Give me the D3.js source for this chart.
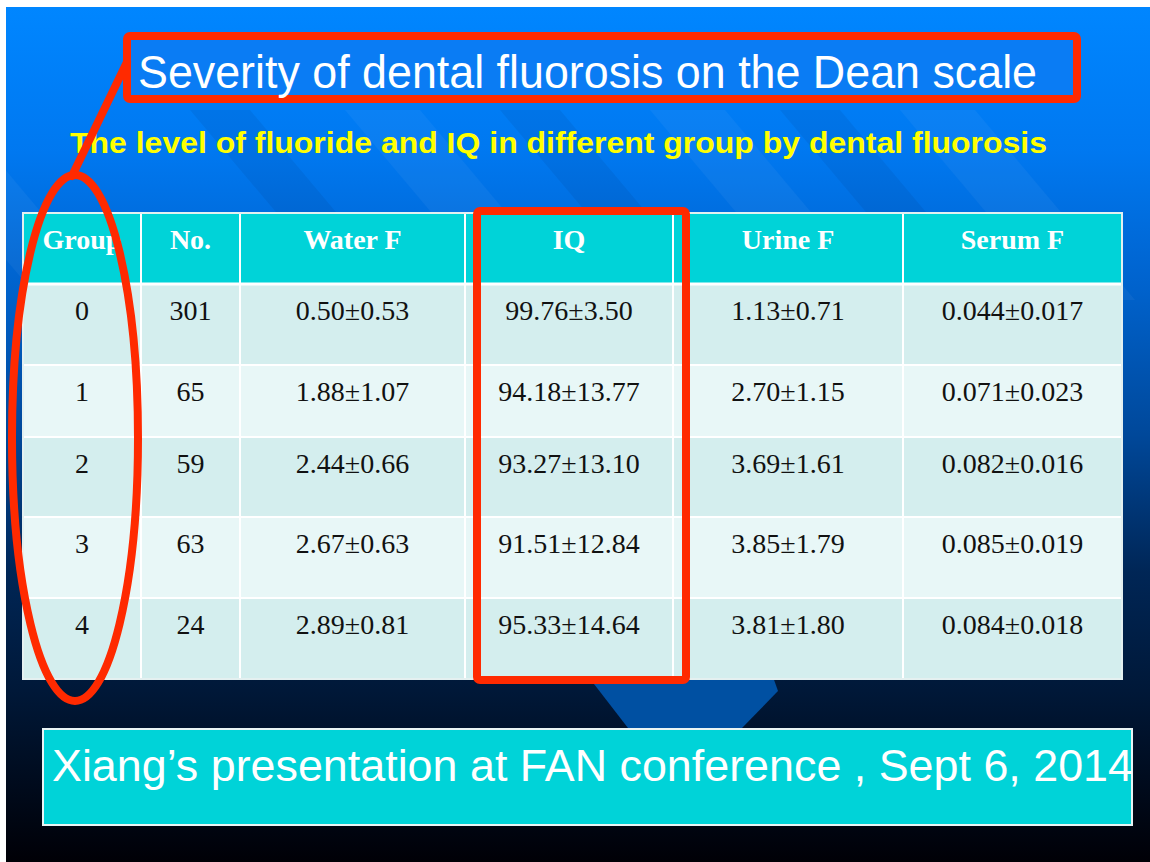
<!DOCTYPE html>
<html>
<head>
<meta charset="utf-8">
<script src="https://cdn.jsdelivr.net/npm/d3@7"></script>
<style>
  body { margin: 0; background: #fff; }
  svg { display: block; }
</style>
</head>
<body>
<svg width="1150" height="862"></svg>
<script>
// table data
var columns = ["Group", "No.", "Water F", "IQ", "Urine F", "Serum F"];
var groups = ["0", "1", "2", "3", "4"];
var counts = [301, 65, 59, 63, 24];
var waterF = ["0.50±0.53", "1.88±1.07", "2.44±0.66", "2.67±0.63", "2.89±0.81"];
var iq     = ["99.76±3.50", "94.18±13.77", "93.27±13.10", "91.51±12.84", "95.33±14.64"];
var urineF = ["1.13±0.71", "2.70±1.15", "3.69±1.61", "3.85±1.79", "3.81±1.80"];
var serumF = ["0.044±0.017", "0.071±0.023", "0.082±0.016", "0.085±0.019", "0.084±0.018"];

var title = "Severity of dental fluorosis on the Dean scale";
var subtitle = "The level of fluoride and IQ in different group by dental fluorosis";
var footer = "Xiang\u2019s presentation at FAN conference , Sept 6, 2014";

var rows = groups.map(function(g, i) {
  return [g, counts[i], waterF[i], iq[i], urineF[i], serumF[i]];
});

var svg = d3.select("svg");
var W = 1150, H = 862;

// layout of the table (column and row edges)
var colEdges = [23, 141, 240, 465, 673, 903, 1122];
var rowEdges = [213, 284, 365, 437, 517, 598, 679];

var x = d3.scaleOrdinal().domain(d3.range(7)).range(colEdges);
var y = d3.scaleOrdinal().domain(d3.range(7)).range(rowEdges);

var defs = svg.append("defs");
var grad = defs.append("linearGradient")
    .attr("id", "bg").attr("x1", 0).attr("y1", 0).attr("x2", 0).attr("y2", 1);
[[0, "#0086ff"], [0.17, "#0078f0"], [0.33, "#0062cc"], [0.5, "#00489a"],
 [0.66, "#002656"], [0.8, "#001838"], [1, "#000006"]].forEach(function(s) {
  grad.append("stop").attr("offset", s[0]).attr("stop-color", s[1]);
});

defs.append("clipPath").attr("id", "slide")
  .append("rect").attr("x", 6).attr("y", 7).attr("width", W - 6).attr("height", H - 7);

// slide background
svg.append("rect")
    .attr("x", 6).attr("y", 7).attr("width", W - 6).attr("height", H - 7)
    .attr("fill", "url(#bg)");

// diagonal light bands
var bands = [-120, 190, 345, 500, 650, 780, 900];
svg.append("g").attr("clip-path", "url(#slide)")
  .selectAll("path").data(bands).enter().append("path")
    .attr("d", function(d, i) {
      var w = i % 2 ? 60 : 75;
      return "M" + d + ",110 L" + (d + w) + ",110 L" + (d + w + 160) + ",300 L" + (d + 160) + ",300 Z";
    })
    .attr("fill", function(d, i) { return i % 2 ? "rgba(0,0,40,0.06)" : "rgba(255,255,255,0.045)"; });

// chevron peeking out below the table
svg.append("path")
    .attr("d", "M560,640 L760,640 L778,691 L742,728 L628,728 Z")
    .attr("fill", "#0050a2");

// title
svg.append("rect")
    .attr("x", 127).attr("y", 36).attr("width", 950).attr("height", 63)
    .attr("rx", 3)
    .attr("fill", "#0a7cf4")
    .attr("stroke", "#ff2a00").attr("stroke-width", 8);

svg.append("text")
    .attr("x", 138).attr("y", 88)
    .attr("textLength", 899).attr("lengthAdjust", "spacingAndGlyphs")
    .style("font-family", "'Liberation Sans', Arial, sans-serif")
    .style("font-size", "46px")
    .attr("fill", "#fff")
    .text(title);

svg.append("text")
    .attr("x", 70).attr("y", 153)
    .attr("textLength", 977).attr("lengthAdjust", "spacingAndGlyphs")
    .style("font-family", "'Liberation Sans', Arial, sans-serif")
    .style("font-size", "30px").style("font-weight", "bold")
    .attr("fill", "#ffff00")
    .text(subtitle);

// table
var table = svg.append("g");

table.selectAll(".rowbg")
  .data(d3.range(6)).enter().append("rect")
    .attr("class", "rowbg")
    .attr("x", x(0)).attr("y", function(i) { return y(i); })
    .attr("width", x(6) - x(0))
    .attr("height", function(i) { return y(i + 1) - y(i); })
    .attr("fill", function(i) { return i === 0 ? "#00d3d8" : (i % 2 ? "#d4eeee" : "#e8f7f7"); });

// grid lines
table.selectAll(".vline")
  .data(d3.range(1, 6)).enter().append("line")
    .attr("x1", function(i) { return x(i); }).attr("x2", function(i) { return x(i); })
    .attr("y1", y(0)).attr("y2", y(6))
    .attr("stroke", "#fff").attr("stroke-width", 2);

table.selectAll(".hline")
  .data(d3.range(1, 6)).enter().append("line")
    .attr("x1", x(0)).attr("x2", x(6))
    .attr("y1", function(i) { return y(i); }).attr("y2", function(i) { return y(i); })
    .attr("stroke", "#fff").attr("stroke-width", function(i) { return i === 1 ? 3 : 2; });

table.append("rect")
    .attr("x", x(0)).attr("y", y(0))
    .attr("width", x(6) - x(0)).attr("height", y(6) - y(0))
    .attr("fill", "none").attr("stroke", "#e4f0f0").attr("stroke-width", 2);

table.selectAll(".head")
  .data(columns).enter().append("text")
    .attr("class", "head")
    .attr("x", function(d, i) { return (x(i) + x(i + 1)) / 2; })
    .attr("y", y(0) + 36)
    .attr("text-anchor", "middle")
    .style("font-family", "'Liberation Serif', 'Times New Roman', serif")
    .style("font-size", "28px").style("font-weight", "bold")
    .attr("fill", "#fff")
    .text(function(d) { return d; });

var row = table.selectAll(".row")
  .data(rows).enter().append("g")
    .attr("class", "row");

row.selectAll("text")
  .data(function(d, r) { return d.map(function(v, c) { return {v: v, r: r, c: c}; }); })
  .enter().append("text")
    .attr("x", function(d) { return (x(d.c) + x(d.c + 1)) / 2; })
    .attr("y", function(d) { return y(d.r + 1) + 36; })
    .attr("text-anchor", "middle")
    .style("font-family", "'Liberation Serif', 'Times New Roman', serif")
    .style("font-size", "28px")
    .attr("fill", "#111")
    .text(function(d) { return d.v; });

// red highlight marks
svg.append("line")
    .attr("x1", 127).attr("y1", 62).attr("x2", 72).attr("y2", 176)
    .attr("stroke", "#ff2a00").attr("stroke-width", 8).attr("stroke-linecap", "round");

svg.append("ellipse")
    .attr("cx", 75).attr("cy", 438).attr("rx", 63).attr("ry", 263)
    .attr("fill", "none")
    .attr("stroke", "#ff2a00").attr("stroke-width", 8);

svg.append("rect")
    .attr("x", 477).attr("y", 211).attr("width", 209).attr("height", 469)
    .attr("rx", 3)
    .attr("fill", "none")
    .attr("stroke", "#ff2a00").attr("stroke-width", 8);

// footer box
svg.append("rect")
    .attr("x", 43).attr("y", 729).attr("width", 1089).attr("height", 96)
    .attr("fill", "#00d3d8")
    .attr("stroke", "#e8f4f4").attr("stroke-width", 2);

svg.append("text")
    .attr("x", 52).attr("y", 781)
    .attr("textLength", 1081).attr("lengthAdjust", "spacingAndGlyphs")
    .style("font-family", "'Liberation Sans', Arial, sans-serif")
    .style("font-size", "45px")
    .attr("fill", "#fff")
    .text(footer);
</script>
</body>
</html>
